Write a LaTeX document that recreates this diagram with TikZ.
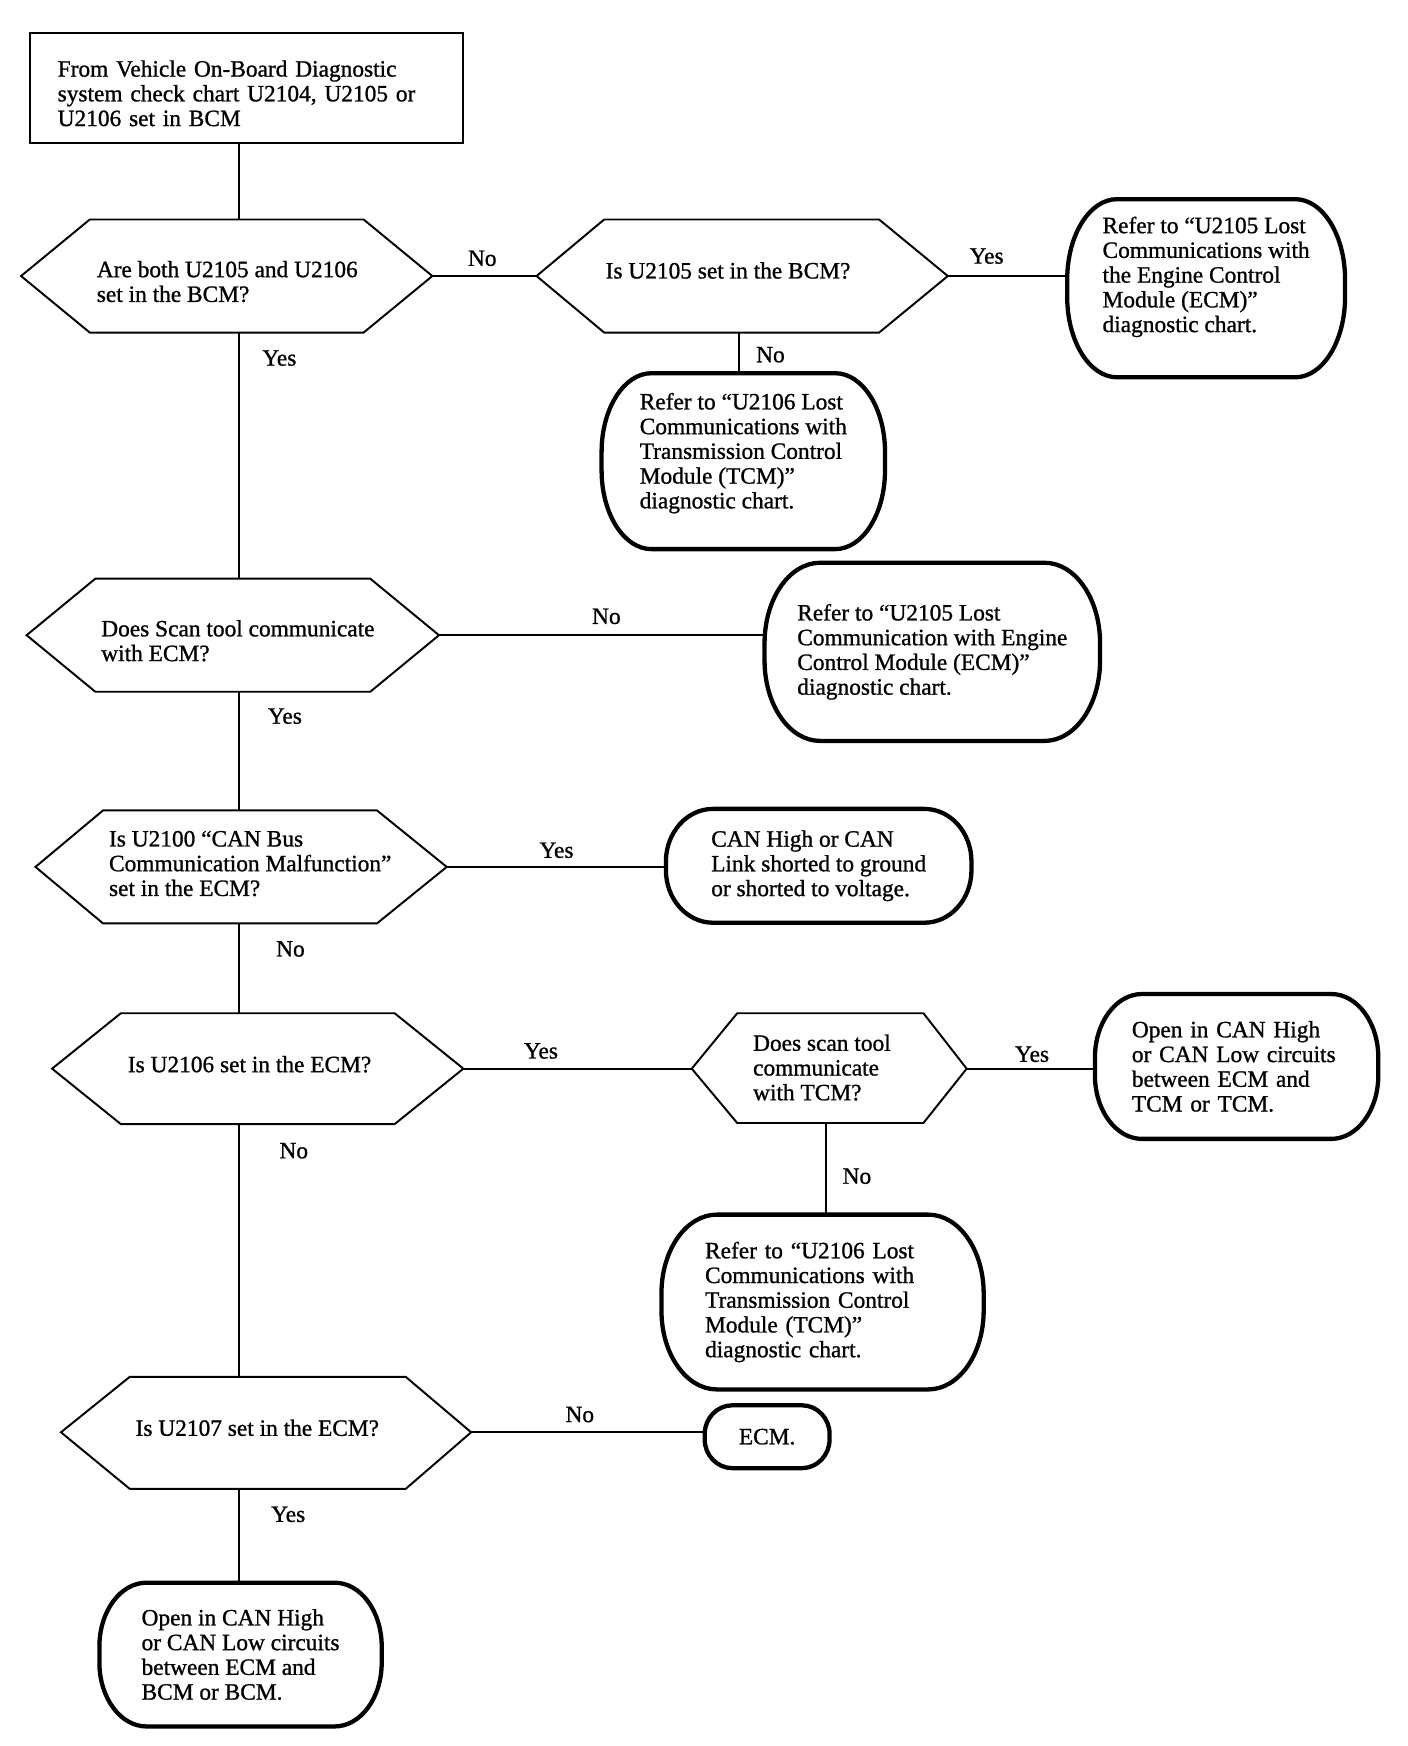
\documentclass[tikz,border=0pt]{standalone}
\usepackage{fontspec}
\setmainfont{Liberation Serif}
\newfontfamily\scanfont{Liberation Serif}[FakeBold=1]
\usepackage{tikz}

\tikzset{
  startbox/.style={draw=black, line width=1.1pt, align=left, inner sep=0pt},
  qline/.style={draw=black, line width=1pt, line join=miter},
  qtext/.style={anchor=west, align=left, inner sep=0pt},
  endbox/.style={align=left, inner sep=0pt},
  endline/.style={draw=black, line width=2.2pt},
  link/.style={draw=black, line width=1pt},
  ans/.style={inner sep=0pt}
}

% outline of an end box: node, x radius, y radius
\newcommand{\boxoutline}[3]{%
\draw[endline] ([xshift=#2]#1.north west) -- ([xshift=-#2]#1.north east)
  arc[start angle=90, end angle=0, x radius=#2, y radius=#3]
  -- ([yshift=#3]#1.south east)
  arc[start angle=0, end angle=-90, x radius=#2, y radius=#3]
  -- ([xshift=#2]#1.south west)
  arc[start angle=-90, end angle=-180, x radius=#2, y radius=#3]
  -- ([yshift=-#3]#1.north west)
  arc[start angle=180, end angle=90, x radius=#2, y radius=#3] -- cycle;}

\begin{document}
\begin{tikzpicture}[x=0.02cm, y=-0.02cm, font=\scanfont\fontsize{12}{12.7}\selectfont]

\useasboundingbox (0,0) rectangle (1270,1575);

% start box
\node[startbox, minimum width=7.82cm, minimum height=1.98cm, text width=6.82cm, text height=0.48cm] (start) at (222.5,79.5)
{From Vehicle On-Board Diagnostic\\ system check chart U2104, U2105 or\\ U2106 set in BCM};

% hexagons
{
\draw[qline] (81,198) -- (328,198) -- (390,249) coordinate (q1e) -- (328,300) -- (81,300) -- (19,249) -- cycle;
\coordinate (q1n) at (216,198);
\coordinate (q1s) at (216,300);
\node[qtext] (q1) at (87,254) {Are both U2105 and U2106\\ set in the BCM?};

\draw[qline] (545,198) -- (793,198) -- (855,249) coordinate (q2e) -- (793,300) -- (545,300) -- (484,249) coordinate (q2w) -- cycle;
\coordinate (q2s) at (667,300);
\node[qtext] (q2) at (546,244) {Is U2105 set in the BCM?};

\draw[qline] (86,522) -- (334,522) -- (396,573) coordinate (q3e) -- (334,624) -- (86,624) -- (24,573) -- cycle;
\coordinate (q3n) at (216,522);
\coordinate (q3s) at (216,624);
\node[qtext] (q3) at (91,578) {Does Scan tool communicate\\ with ECM?};

\draw[qline] (93,731) -- (340,731) -- (403,782) coordinate (q4e) -- (340,833) -- (93,833) -- (32,782) -- cycle;
\coordinate (q4n) at (216,731);
\coordinate (q4s) at (216,833);
\node[qtext] (q4) at (98,779) {Is U2100 “CAN Bus\\ Communication Malfunction”\\ set in the ECM?};

\draw[qline] (109,914) -- (356,914) -- (418,964) coordinate (q5e) -- (356,1014) -- (109,1014) -- (47,964) -- cycle;
\coordinate (q5n) at (216,914);
\coordinate (q5s) at (216,1014);
\node[qtext] (q5) at (115,960) {Is U2106 set in the ECM?};

\draw[qline] (665,914) -- (833,914) -- (872,964) coordinate (q6e) -- (833,1013) -- (665,1013) -- (624,964) coordinate (q6w) -- cycle;
\coordinate (q6s) at (745,1013);
\node[qtext] (q6) at (679,963) {Does scan tool\\ communicate\\ with TCM?};

\draw[qline] (117,1242) -- (366,1242) -- (425,1292) coordinate (q7e) -- (366,1343) -- (117,1343) -- (55,1292) -- cycle;
\coordinate (q7n) at (216,1242);
\coordinate (q7s) at (216,1343);
\node[qtext] (q7) at (122,1288) {Is U2107 set in the ECM?};
}

% end boxes
{
\node[endbox, minimum width=5cm, minimum height=3.2cm, text depth=0.5cm] (r1) at (1088,260)
{Refer to “U2105 Lost\\ Communications with\\ the Engine Control\\ Module (ECM)”\\ diagnostic chart.};
\boxoutline{r1}{0.9cm}{1.45cm}

\node[endbox, minimum width=5.1cm, minimum height=3.16cm, text depth=0.38cm] (r2) at (670.5,416)
{Refer to “U2106 Lost\\ Communications with\\ Transmission Control\\ Module (TCM)”\\ diagnostic chart.};
\boxoutline{r2}{0.9cm}{1.42cm}

\node[endbox, minimum width=6.04cm, minimum height=3.2cm] (r3) at (841,588)
{Refer to “U2105 Lost\\ Communication with Engine\\ Control Module (ECM)”\\ diagnostic chart.};
\boxoutline{r3}{1cm}{1.45cm}

\node[endbox, minimum width=5.5cm, minimum height=2.04cm] (r4) at (738.5,781)
{CAN High or CAN\\ Link shorted to ground\\ or shorted to voltage.};
\boxoutline{r4}{0.85cm}{0.95cm}

\node[endbox, minimum width=5.1cm, minimum height=2.6cm, text width=3.78cm] (r5) at (1115.5,962)
{Open in CAN High\\ or CAN Low circuits\\ between ECM and\\ TCM or TCM.};
\boxoutline{r5}{0.85cm}{1.15cm}

\node[endbox, minimum width=5.8cm, minimum height=3.14cm, text width=4.24cm] (r6) at (742,1174.5)
{Refer to “U2106 Lost\\ Communications with\\ Transmission Control\\ Module (TCM)”\\ diagnostic chart.};
\boxoutline{r6}{1cm}{1.42cm}

\node[endbox, minimum width=2.24cm, minimum height=1.12cm] (r7) at (692,1296) {ECM.};
\boxoutline{r7}{0.5cm}{0.52cm}

\node[endbox, minimum width=5.08cm, minimum height=2.58cm] (r8) at (217,1492.5)
{Open in CAN High\\ or CAN Low circuits\\ between ECM and\\ BCM or BCM.};
\boxoutline{r8}{0.85cm}{1.15cm}
}

% connectors
{
\draw[link] (q1n |- start.south) -- (q1n);
\draw[link] (q1e) -- (q2w);
\draw[link] (q2e) -- (q2e -| r1.west);
\draw[link] (q2s) -- (q2s |- r2.north);
\draw[link] (q1s) -- (q3n);
\draw[link] (q3e) -- (q3e -| r3.west);
\draw[link] (q3s) -- (q4n);
\draw[link] (q4e) -- (q4e -| r4.west);
\draw[link] (q4s) -- (q5n);
\draw[link] (q5e) -- (q6w);
\draw[link] (q6e) -- (q6e -| r5.west);
\draw[link] (q6s) -- (q6s |- r6.north);
\draw[link] (q5s) -- (q7n);
\draw[link] (q7e) -- (q7e -| r7.west);
\draw[link] (q7s) -- (q7s |- r8.north);
}

% answers
{
\node[ans] (a1) at (435,233) {No};
\node[ans] (a2) at (890,231) {Yes};
\node[ans] (a3) at (695,320) {No};
\node[ans] (a4) at (252,323) {Yes};
\node[ans] (a5) at (547,556) {No};
\node[ans] (a6) at (257,646) {Yes};
\node[ans] (a7) at (502,767) {Yes};
\node[ans] (a8) at (262,856) {No};
\node[ans] (a9) at (488,948) {Yes};
\node[ans] (a10) at (931,951) {Yes};
\node[ans] (a11) at (773,1061) {No};
\node[ans] (a12) at (265,1038) {No};
\node[ans] (a13) at (523,1276) {No};
\node[ans] (a14) at (260,1366) {Yes};
}

\end{tikzpicture}
\end{document}
